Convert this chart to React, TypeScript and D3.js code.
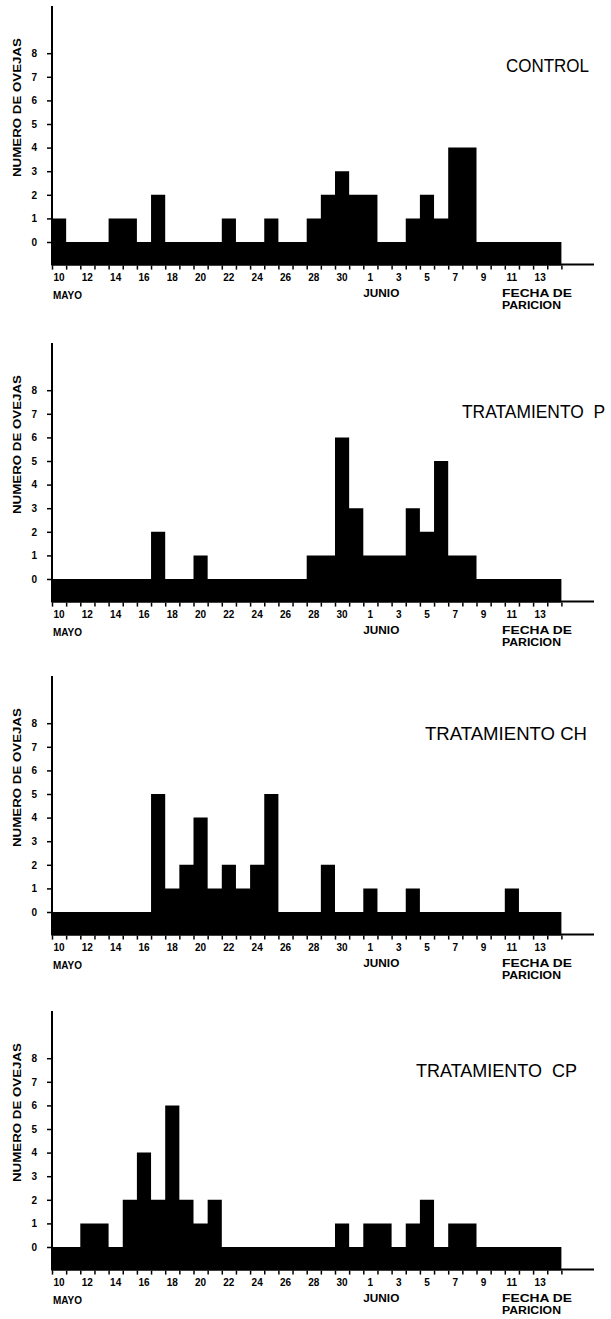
import React, { useEffect, useRef } from 'react';
import * as d3 from 'd3';

// days from 10 May to 14 June
const days = [
  10, 11, 12, 13, 14, 15, 16, 17, 18, 19, 20, 21, 22, 23, 24, 25, 26, 27, 28, 29, 30, 31,
  1, 2, 3, 4, 5, 6, 7, 8, 9, 10, 11, 12, 13, 14,
];
const xTickLabels = ['10', '12', '14', '16', '18', '20', '22', '24', '26', '28', '30', '1', '3', '5', '7', '9', '11', '13'];
const yTickValues = [0, 1, 2, 3, 4, 5, 6, 7, 8];

const control = [1, 0, 0, 0, 1, 1, 0, 2, 0, 0, 0, 0, 1, 0, 0, 1, 0, 0, 1, 2, 3, 2, 2, 0, 0, 1, 2, 1, 4, 4, 0, 0, 0, 0, 0, 0];
const tratamientoP = [0, 0, 0, 0, 0, 0, 0, 2, 0, 0, 1, 0, 0, 0, 0, 0, 0, 0, 1, 1, 6, 3, 1, 1, 1, 3, 2, 5, 1, 1, 0, 0, 0, 0, 0, 0];
const tratamientoCH = [0, 0, 0, 0, 0, 0, 0, 5, 1, 2, 4, 1, 2, 1, 2, 5, 0, 0, 0, 2, 0, 0, 1, 0, 0, 1, 0, 0, 0, 0, 0, 0, 1, 0, 0, 0];
const tratamientoCP = [0, 0, 1, 1, 0, 2, 4, 2, 6, 2, 1, 2, 0, 0, 0, 0, 0, 0, 0, 0, 1, 0, 1, 1, 0, 1, 2, 0, 1, 1, 0, 0, 0, 0, 0, 0];

const titles = ['CONTROL', 'TRATAMIENTO  P', 'TRATAMIENTO CH', 'TRATAMIENTO  CP'];

const W = 611;
const H = 1319;
const axisX = 52;
const dayW = 14.15;
const unit = 23.6;
const axisEnd = 594;
const labelFont = '"Liberation Sans", Arial, sans-serif';

// per-panel layout (zero line y, title x / baseline / width / size)
const panels = [
  { values: control, zeroY: 242, tx: 506, ty: 72, tw: 83, fs: 19 },
  { values: tratamientoP, zeroY: 579, tx: 462, ty: 418, tw: 143, fs: 17.5 },
  { values: tratamientoCH, zeroY: 912, tx: 425, ty: 740, tw: 162, fs: 19 },
  { values: tratamientoCP, zeroY: 1247, tx: 416, ty: 1077, tw: 161, fs: 19 },
];

export default function App() {
  const ref = useRef<SVGSVGElement>(null);

  useEffect(() => {
    const svg = d3.select(ref.current);
    svg.selectAll('*').remove();
    svg.append('rect').attr('width', W).attr('height', H).attr('fill', '#fff');

    const x = d3.scaleLinear().domain([0, days.length]).range([axisX, axisX + days.length * dayW]);

    panels.forEach((p, k) => {
      const y = d3.scaleLinear()
        .domain([-1, 10])
        .range([p.zeroY + unit, p.zeroY - 10 * unit]);
      const g = svg.append('g');

      // step histogram, filled down to the axis
      const pts = p.values.map((v, i) => [i, v] as [number, number]);
      pts.push([days.length, p.values[p.values.length - 1]]);
      const area = d3.area<[number, number]>()
        .x(d => x(d[0]))
        .y0(y(-1))
        .y1(d => y(d[1]))
        .curve(d3.curveStepAfter);
      g.append('path').attr('d', area(pts) as string).attr('fill', '#000');

      // x axis line and day ticks
      g.append('line')
        .attr('x1', x(0)).attr('x2', axisEnd)
        .attr('y1', y(-1) - 1).attr('y2', y(-1) - 1)
        .attr('stroke', '#000').attr('stroke-width', 2);
      const xAxis = d3.axisBottom(x)
        .tickValues(d3.range(0, days.length + 1))
        .tickSize(4)
        .tickFormat(() => '');
      const xg = g.append('g').attr('transform', `translate(0,${y(-1)})`).call(xAxis);
      xg.select('.domain').remove();
      xg.selectAll('line').attr('stroke', '#000').attr('stroke-width', 1.5);

      xTickLabels.forEach((lab, j) => {
        g.append('text')
          .attr('x', x(j * 2 + 0.5))
          .attr('y', y(-1) + 15)
          .attr('text-anchor', 'middle')
          .attr('font-family', labelFont)
          .attr('font-weight', 'bold')
          .attr('font-size', 10)
          .text(lab);
      });

      g.append('text')
        .attr('x', axisX + 1).attr('y', y(-1) + 33)
        .attr('font-family', labelFont).attr('font-weight', 'bold').attr('font-size', 10)
        .attr('textLength', 29).attr('lengthAdjust', 'spacingAndGlyphs')
        .text('MAYO');
      g.append('text')
        .attr('x', x(22)).attr('y', y(-1) + 31)
        .attr('font-family', labelFont).attr('font-weight', 'bold').attr('font-size', 10)
        .attr('textLength', 36).attr('lengthAdjust', 'spacingAndGlyphs')
        .text('JUNIO');
      g.append('text')
        .attr('x', 502).attr('y', y(-1) + 31)
        .attr('font-family', labelFont).attr('font-weight', 'bold').attr('font-size', 10)
        .attr('textLength', 70).attr('lengthAdjust', 'spacingAndGlyphs')
        .text('FECHA DE');
      g.append('text')
        .attr('x', 502).attr('y', y(-1) + 43)
        .attr('font-family', labelFont).attr('font-weight', 'bold').attr('font-size', 10)
        .attr('textLength', 59).attr('lengthAdjust', 'spacingAndGlyphs')
        .text('PARICION');

      // y axis
      g.append('line')
        .attr('x1', axisX).attr('x2', axisX)
        .attr('y1', y(10)).attr('y2', y(-1))
        .attr('stroke', '#000').attr('stroke-width', 2);
      const yAxis = d3.axisLeft(y).tickValues(yTickValues).tickSize(5).tickPadding(10).tickFormat(d3.format('d'));
      const yg = g.append('g').attr('transform', `translate(${axisX},0)`).call(yAxis);
      yg.select('.domain').remove();
      yg.selectAll('line').attr('stroke', '#000').attr('stroke-width', 1.5);
      yg.selectAll('text')
        .attr('font-family', labelFont)
        .attr('font-weight', 'bold')
        .attr('font-size', 10)
        .attr('fill', '#000');

      g.append('text')
        .attr('transform', `translate(21,${p.zeroY - 134.5}) rotate(-90)`)
        .attr('text-anchor', 'middle')
        .attr('font-family', labelFont).attr('font-weight', 'bold').attr('font-size', 11)
        .attr('textLength', 139).attr('lengthAdjust', 'spacingAndGlyphs')
        .text('NUMERO DE OVEJAS');

      g.append('text')
        .attr('x', p.tx).attr('y', p.ty)
        .attr('font-family', labelFont).attr('font-size', p.fs)
        .attr('textLength', p.tw).attr('lengthAdjust', 'spacingAndGlyphs')
        .attr('xml:space', 'preserve')
        .style('white-space', 'pre')
        .text(titles[k]);
    });
  }, []);

  return (
    <div>
      <svg ref={ref} width={W} height={H} style={{ position: 'absolute', left: 0, top: 0 }} />
    </div>
  );
}
